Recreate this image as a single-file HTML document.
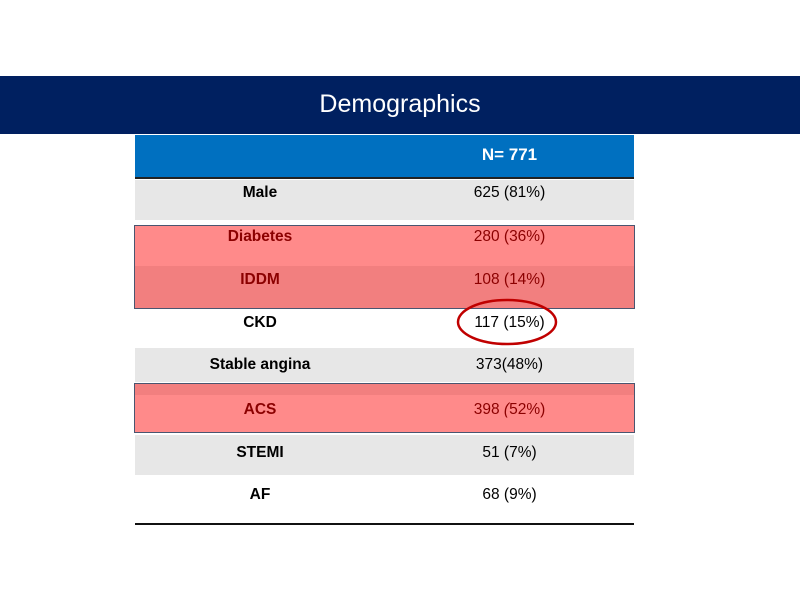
<!DOCTYPE html>
<html><head><meta charset="utf-8"><style>
body{margin:0;width:800px;height:600px;background:#fff;position:relative;overflow:hidden;font-family:"Liberation Sans",sans-serif}
.a{position:absolute}
.row{position:absolute;left:135px;width:499px}
.c{position:absolute;text-align:center;font-size:15.5px;line-height:20px}
.l{left:0;width:250px;font-weight:bold}
.v{left:250px;width:249px}
</style></head><body>
<div class="a" style="left:0;top:76px;width:800px;height:58px;background:#002060;color:#fff;font-size:25px;text-align:center;line-height:56px">Demographics</div>
<div class="row" style="top:135px;height:42px;background:#0070c0;border-bottom:2px solid #222">
 <div class="c v" style="top:10px;color:#fff;font-weight:bold;font-size:17px">N= 771</div></div>
<div class="row" style="top:180px;height:40px;background:#e7e7e7">
 <div class="c l" style="top:3px">Male</div><div class="c v" style="top:3px">625 (81%)</div></div>
<div class="row" style="top:225px;height:82px;border:1px solid #4a5570;left:134px;background:#ff8a8a">
 <div class="a" style="left:0;top:40px;width:499px;height:42px;background:#f27f7f"></div>
 <div class="c l" style="top:1px;color:#8b0000">Diabetes</div><div class="c v" style="top:1px;color:#8b0000">280 (36%)</div>
 <div class="c l" style="top:44px;color:#8b0000">IDDM</div><div class="c v" style="top:44px;color:#8b0000">108 (14%)</div></div>
<div class="row" style="top:309px;height:38px">
 <div class="c l" style="top:4px">CKD</div><div class="c v" style="top:4px">117 (15%)</div></div>
<svg class="a" style="left:0;top:0" width="800" height="600"><ellipse cx="507" cy="322" rx="49" ry="22" fill="none" stroke="#c00000" stroke-width="2.5"/></svg>
<div class="row" style="top:348px;height:34px;background:#e7e7e7">
 <div class="c l" style="top:7px">Stable angina</div><div class="c v" style="top:7px">373(48%)</div></div>
<div class="row" style="top:383px;height:48px;border:1px solid #4a5570;left:134px;background:#ff8a8a">
 <div class="a" style="left:0;top:0;width:499px;height:11px;background:#f27f7f"></div>
 <div class="c l" style="top:16px;color:#8b0000">ACS</div><div class="c v" style="top:16px;color:#8b0000">398 <i>(</i>52%)</div></div>
<div class="row" style="top:435px;height:40px;background:#e7e7e7">
 <div class="c l" style="top:8px">STEMI</div><div class="c v" style="top:8px">51 (7%)</div></div>
<div class="row" style="top:475px;height:48px;border-bottom:2px solid #111">
 <div class="c l" style="top:10px">AF</div><div class="c v" style="top:10px">68 (9%)</div></div>
</body></html>
